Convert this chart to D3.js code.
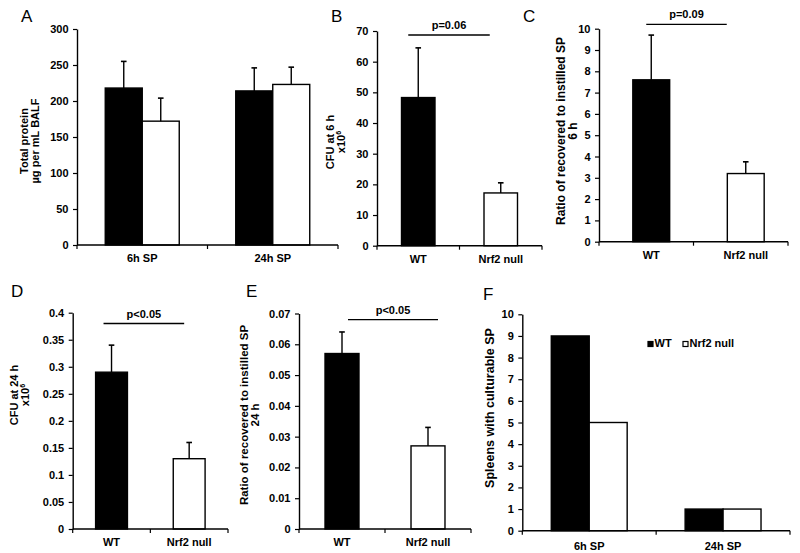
<!DOCTYPE html>
<html><head><meta charset="utf-8">
<script src="https://cdn.jsdelivr.net/npm/d3@7/dist/d3.min.js"></script>
<style>
body{margin:0;background:#fff}
text{font-family:Arial,"Liberation Sans",sans-serif;fill:#000}
</style>
</head><body>
<svg id="chart" width="800" height="553"></svg>
<script>
// ---------- DATA ----------
const seriesNames = ["WT", "Nrf2 null"];
const timeCategories = ["6h SP", "24h SP"];
const genotypeCategories = ["WT", "Nrf2 null"];

// Panel A: total protein (µg per mL BALF)
const aWT = [218, 214];
const aWTErr = [37, 32];
const aNull = [172, 223];
const aNullErr = [32, 24];
const aTicks = [0, 50, 100, 150, 200, 250, 300];

// Panel B: CFU at 6 h (x10^6)
const bValues = [48.3, 17.2];
const bErr = [16.2, 3.3];
const bTicks = [0, 10, 20, 30, 40, 50, 60, 70];
const bPText = "p=0.06";
const bPLevel = 68.7;

// Panel C: ratio recovered/instilled 6 h
const cValues = [7.6, 3.2];
const cErr = [2.1, 0.55];
const cTicks = [0, 1, 2, 3, 4, 5, 6, 7, 8, 9, 10];
const cPText = "p=0.09";
const cPLevel = 10.2;

// Panel D: CFU at 24 h (x10^6)
const dValues = [0.29, 0.13];
const dErr = [0.05, 0.03];
const dTicks = [0, 0.05, 0.1, 0.15, 0.2, 0.25, 0.3, 0.35, 0.4];
const dPText = "p<0.05";
const dPLevel = 0.38;

// Panel E: ratio recovered/instilled 24 h
const eValues = [0.057, 0.027];
const eErr = [0.007, 0.006];
const eTicks = [0, 0.01, 0.02, 0.03, 0.04, 0.05, 0.06, 0.07];
const ePText = "p<0.05";
const ePLevel = 0.068;

// Panel F: spleens with culturable SP
const fWT = [9, 1];
const fNull = [5, 1];
const fTicks = [0, 1, 2, 3, 4, 5, 6, 7, 8, 9, 10];

// ---------- DRAW ----------
const svg = d3.select("#chart");
const FONT = 11;
const fmt = d => String(+d.toFixed(4));
const genoFill = ["#000", "#fff"];

function panel(o) {
  const g = svg.append("g");
  const x = d3.scaleBand().domain(o.categories).range([o.x0, o.x1]);
  const y = d3.scaleLinear().domain([0, o.max]).range([o.y1, o.y0]);
  const groupW = x.bandwidth() * o.barFrac;
  const off = (x.bandwidth() - groupW) / 2 + (o.barShift || 0);
  const inner = d3.scaleBand().domain(d3.range(o.series.length)).range([0, groupW]);

  // panel letter
  g.append("text").attr("x", o.letterX).attr("y", o.letterY)
    .attr("font-size", 17).text(o.letter);

  // bars
  o.series.forEach((s, si) => {
    const rows = o.categories.map((c, i) => ({c, i, v: s.values[i], e: s.errs ? s.errs[i] : null}));
    g.selectAll(null).data(rows).enter().append("rect")
      .attr("x", d => x(d.c) + off + inner(si))
      .attr("width", inner.bandwidth())
      .attr("y", d => y(d.v))
      .attr("height", d => y(0) - y(d.v))
      .attr("fill", d => s.fills ? s.fills[d.i] : s.fill)
      .attr("stroke", "#000").attr("stroke-width", 1.4);
    if (s.errs) {
      const cx = d => x(d.c) + off + inner(si) + inner.bandwidth() / 2;
      g.selectAll(null).data(rows).enter().append("line")
        .attr("x1", cx).attr("x2", cx)
        .attr("y1", d => y(d.v)).attr("y2", d => y(d.v + d.e))
        .attr("stroke", "#000").attr("stroke-width", 1.4);
      g.selectAll(null).data(rows).enter().append("line")
        .attr("x1", d => cx(d) - 2.8).attr("x2", d => cx(d) + 2.8)
        .attr("y1", d => y(d.v + d.e)).attr("y2", d => y(d.v + d.e))
        .attr("stroke", "#000").attr("stroke-width", 1.6);
    }
  });

  // y axis
  const ya = g.append("g").attr("transform", `translate(${o.x0},0)`)
    .call(d3.axisLeft(y).tickValues(o.ticks).tickSize(4).tickSizeOuter(0).tickPadding(4.5).tickFormat(fmt));
  ya.attr("font-family", null).attr("font-size", null);
  ya.selectAll("text").attr("font-size", FONT).attr("font-weight", "bold").attr("fill", "#000");
  ya.selectAll("line").attr("stroke", "#000").attr("stroke-width", 1.2);
  ya.select(".domain").attr("stroke", "#000").attr("stroke-width", 1.4);

  // x axis (Excel style: ticks at category boundaries)
  const xa = g.append("g");
  xa.append("line").attr("x1", o.x0).attr("x2", o.x1).attr("y1", o.y1).attr("y2", o.y1)
    .attr("stroke", "#000").attr("stroke-width", 1.4);
  const bounds = o.categories.map(c => x(c)).concat([o.x1]);
  xa.selectAll(null).data(bounds).enter().append("line")
    .attr("x1", d => d).attr("x2", d => d).attr("y1", o.y1).attr("y2", o.y1 + 4)
    .attr("stroke", "#000").attr("stroke-width", 1.2);
  xa.selectAll(null).data(o.categories).enter().append("text")
    .attr("x", d => x(d) + x.bandwidth() / 2 + (o.barShift || 0)).attr("y", o.y1 + o.xLabelDy)
    .attr("text-anchor", "middle").attr("font-size", FONT).attr("font-weight", "bold")
    .text(d => d);

  // y label
  const yl = g.append("text")
    .attr("transform", `translate(${o.labelX},${o.labelY}) rotate(-90)`)
    .attr("text-anchor", "middle").attr("font-size", o.labelSize || FONT).attr("font-weight", "bold");
  o.yLabel.forEach((line, i) => {
    const t = yl.append("tspan").attr("x", 0).attr("dy", i === 0 ? 0 : "1.0em");
    if (Array.isArray(line)) {
      t.text(line[0]);
      yl.append("tspan").attr("font-size", 7).attr("dy", "-0.55em").text(line[1]);
    } else t.text(line);
  });

  // significance line
  if (o.pText) {
    const c0 = x(o.categories[0]) + x.bandwidth() / 2;
    const c1 = x(o.categories[1]) + x.bandwidth() / 2;
    const lx0 = c0 + o.pOff[0], lx1 = c1 + o.pOff[1];
    g.append("line").attr("x1", lx0).attr("x2", lx1)
      .attr("y1", y(o.pLevel)).attr("y2", y(o.pLevel))
      .attr("stroke", "#000").attr("stroke-width", 1.3);
    g.append("text").attr("x", (lx0 + lx1) / 2).attr("y", y(o.pLevel) - 6)
      .attr("text-anchor", "middle").attr("font-size", FONT).attr("font-weight", "bold")
      .text(o.pText);
  }
  return {x, y, g};
}

// Panel A
panel({letter: "A", letterX: 21, letterY: 22,
  x0: 77, x1: 338, y0: 29, y1: 245, max: 300, ticks: aTicks,
  categories: timeCategories, barFrac: 0.567,
  series: [{values: aWT, errs: aWTErr, fill: "#000"}, {values: aNull, errs: aNullErr, fill: "#fff"}],
  yLabel: ["Total protein", "µg per mL BALF"], labelX: 28, labelY: 141, xLabelDy: 17});

// Panel B
panel({letter: "B", letterX: 331, letterY: 22,
  x0: 377, x1: 542, y0: 31, y1: 245.7, max: 70, ticks: bTicks,
  categories: genotypeCategories, barFrac: 0.406,
  series: [{values: bValues, errs: bErr, fills: genoFill}],
  yLabel: ["CFU at 6 h", ["x10", "6"]], labelX: 334, labelY: 142, xLabelDy: 17,
  pText: bPText, pLevel: bPLevel, pOff: [-10, -11]});

// Panel C
panel({letter: "C", letterX: 523, letterY: 22,
  x0: 599, x1: 788, y0: 28.7, y1: 241.7, max: 10, ticks: cTicks,
  categories: genotypeCategories, barFrac: 0.39, barShift: 5,
  series: [{values: cValues, errs: cErr, fills: genoFill}],
  yLabel: ["Ratio of recovered to instilled SP", "6 h"], labelX: 565, labelY: 131, labelSize: 12, xLabelDy: 17,
  pText: cPText, pLevel: cPLevel, pOff: [0, -14]});

// Panel D
panel({letter: "D", letterX: 11, letterY: 297,
  x0: 72.7, x1: 228, y0: 312.7, y1: 529, max: 0.4, ticks: dTicks,
  categories: genotypeCategories, barFrac: 0.41,
  series: [{values: dValues, errs: dErr, fills: genoFill}],
  yLabel: ["CFU at 24 h", ["x10", "6"]], labelX: 18, labelY: 395, xLabelDy: 17,
  pText: dPText, pLevel: dPLevel, pOff: [-8, -5]});

// Panel E
panel({letter: "E", letterX: 246, letterY: 297,
  x0: 299, x1: 471, y0: 313.5, y1: 529, max: 0.07, ticks: eTicks,
  categories: genotypeCategories, barFrac: 0.395,
  series: [{values: eValues, errs: eErr, fills: genoFill}],
  yLabel: ["Ratio of recovered to instilled SP", "24 h"], labelX: 247.5, labelY: 415, labelSize: 11.5, xLabelDy: 17,
  pText: ePText, pLevel: ePLevel, pOff: [6, 10]});

// Panel F
const pf = panel({letter: "F", letterX: 483, letterY: 300,
  x0: 522.3, x1: 790, y0: 314.3, y1: 530.7, max: 10, ticks: fTicks,
  categories: timeCategories, barFrac: 0.567,
  series: [{values: fWT, fill: "#000"}, {values: fNull, fill: "#fff"}],
  yLabel: ["Spleens with culturable SP"], labelX: 494, labelY: 408, labelSize: 12.5, xLabelDy: 19});

// Legend for F
const legendItems = seriesNames.map((n, i) => ({n, fill: genoFill[i]}));
const legX = [648, 683];
const leg = pf.g.selectAll(null).data(legendItems).enter().append("g")
  .attr("transform", (d, i) => `translate(${legX[i]},341.5)`);
leg.append("rect").attr("width", 5).attr("height", 5)
  .attr("fill", d => d.fill).attr("stroke", "#000").attr("stroke-width", 1.2);
leg.append("text").attr("x", 6.5).attr("y", 5.3).attr("font-size", FONT).attr("font-weight", "bold")
  .text(d => d.n);
</script>
</body></html>
